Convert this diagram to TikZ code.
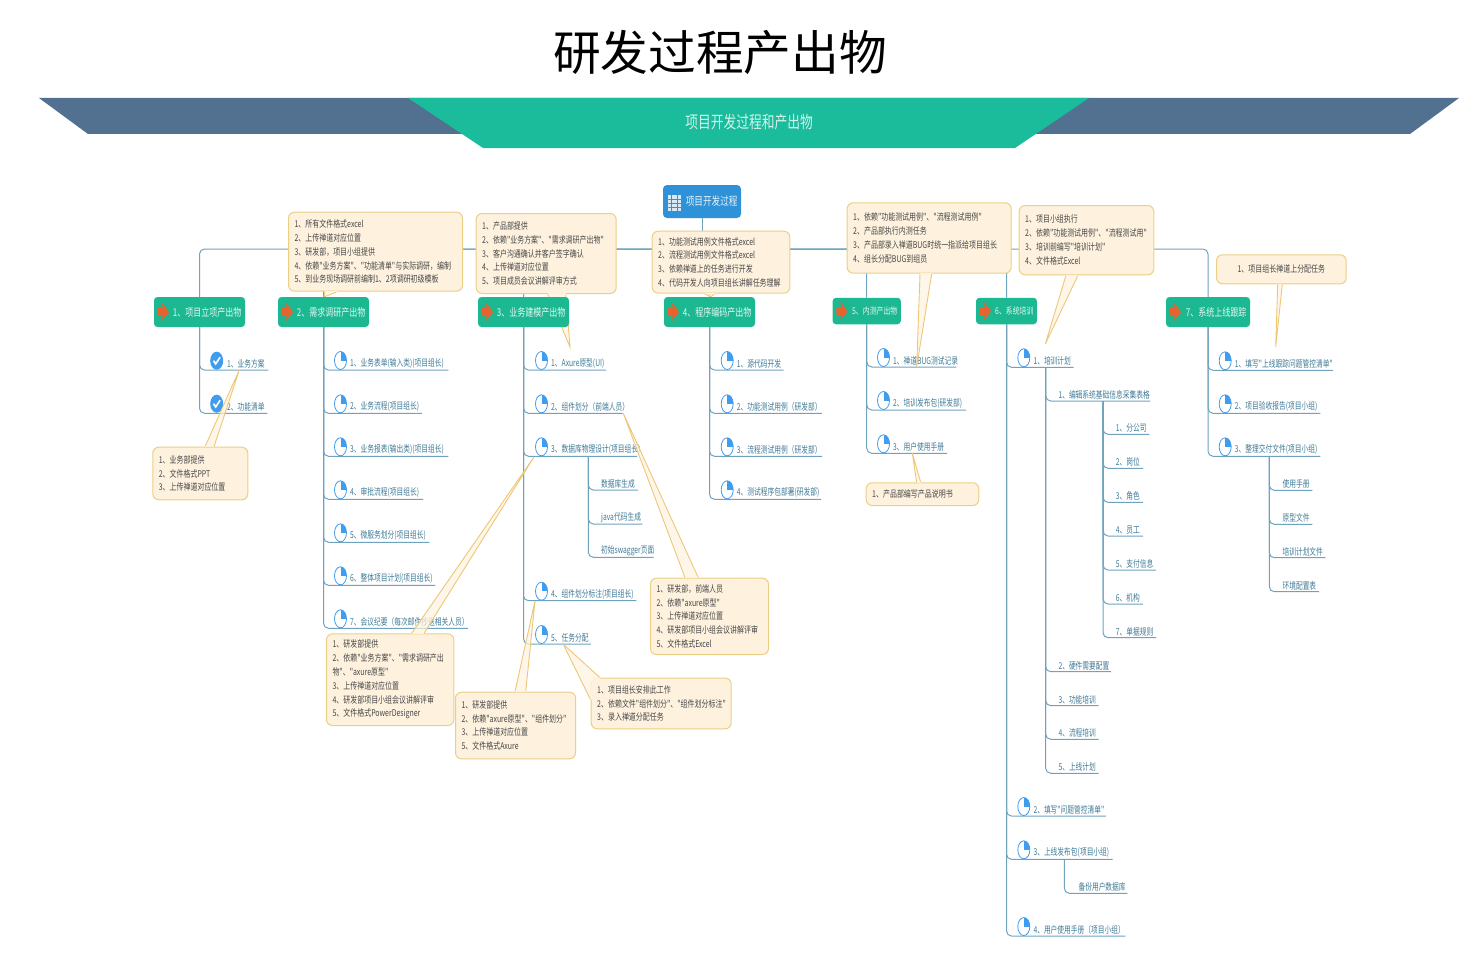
\documentclass[tikz,border=0pt]{standalone}
\usepackage{fontspec}
\newfontfamily\bodyfont[FakeStretch=0.75]{Noto Sans CJK SC}
\newfontfamily\leaffont[FakeStretch=0.71]{Noto Sans CJK SC}
\newfontfamily\titlefont{Noto Sans CJK SC}
\usetikzlibrary{shapes.geometric,backgrounds}

\definecolor{teal}{HTML}{1ABC9C}
\definecolor{headgreen}{HTML}{1BB891}
\definecolor{slate}{HTML}{52708F}
\definecolor{rootblue}{HTML}{2F92D8}
\definecolor{wirecol}{HTML}{6FA3BD}
\definecolor{leafcol}{HTML}{3F7A96}
\definecolor{iconblue}{HTML}{3F9CEE}
\definecolor{arrowcol}{HTML}{E8622F}
\definecolor{callbg}{HTML}{FEF2DF}
\definecolor{callline}{HTML}{EBCF85}

\tikzset{
  wire/.style={draw=wirecol, line width=1pt, rounded corners=5pt},
  leaf/.style={anchor=south west, text width=#1pt, inner xsep=0pt, inner ysep=1.5pt, text=leafcol,
    font=\leaffont\fontsize{9.5}{11}\selectfont},
  pieicon/.style={ellipse, draw=iconblue, line width=.8pt, fill=white, minimum width=12pt, minimum height=18pt, inner sep=0pt,
    path picture={\fill[iconblue] (path picture bounding box.center) rectangle (path picture bounding box.north east);}},
  checkicon/.style={ellipse, fill=iconblue, minimum width=13pt, minimum height=18pt, inner sep=0pt,
    path picture={\draw[white, line width=1.7pt]
      ([shift={(-3.2,0)}]path picture bounding box.center) -- ([shift={(-1,3.2)}]path picture bounding box.center)
      -- ([shift={(3.4,-3.4)}]path picture bounding box.center);}},
  head/.style={rectangle, rounded corners=3.5pt, fill=headgreen, text=white!88!teal, anchor=center, align=right,
    text width=#1pt, inner xsep=3.5pt, inner ysep=0pt, minimum height=30pt, font=\bodyfont\fontsize{10.7}{13}\selectfont},
  headsmall/.style={head=#1, minimum height=26.5pt, font=\bodyfont\fontsize{9.2}{11}\selectfont},
  callbox/.style={rectangle, anchor=north west, rounded corners=6pt, draw=callline, line width=1pt, fill=callbg, text=black!72,
    align=left, text width=#1pt, inner xsep=6pt, inner ysep=0pt, font=\bodyfont\fontsize{9.3}{13.8}\selectfont},
  tailfill/.style={fill=callbg, fill opacity=.7},
  tailline/.style={draw=callline!90!orange, line width=.9pt},
  tailcap/.style={draw=callbg, line width=1.3pt},
}

\newcommand{\pieleaf}[5]{
  \node[leaf=#4] (#1) at (#2,#3) {#5};
  \node[pieicon] (i#1) at ([xshift=-9.5pt,yshift=9.5pt]#1.south west) {};
}
\newcommand{\calltail}[3]{
  \fill[tailfill] (#1) -- (#2) -- (#3) -- cycle;
  \draw[tailline] (#1) -- (#2) -- (#3);
  \draw[tailcap] (#1) -- (#3);
}
\newcommand{\headarrow}[1]{
  \fill[arrowcol] ([xshift=4pt,yshift=4pt]#1.west) -- ([xshift=9pt,yshift=4pt]#1.west) -- ([xshift=8pt,yshift=9.3pt]#1.west)
    -- ([xshift=15.3pt]#1.west) -- ([xshift=8pt,yshift=-9.3pt]#1.west) -- ([xshift=9pt,yshift=-4pt]#1.west) -- ([xshift=4pt,yshift=-4pt]#1.west) -- cycle;
}

\begin{document}
\begin{tikzpicture}[x=1pt,y=-1pt]
  \useasboundingbox (0,0) rectangle (1469,971);

  % banner
  \node[font=\titlefont\fontsize{47.7}{50}\selectfont, text=black] (title) at (720,52) {研发过程产出物};
  \fill[slate] (39,98) -- (1459,98) -- (1410,134) -- (88,134) -- cycle;
  \fill[teal] (408,98) -- (1089,98) -- (1015,148) -- (483,148) -- cycle;
  \node[font=\bodyfont\fontsize{17}{19}\selectfont, text=white!82!teal] (subtitle) at (749,122) {项目开发过程和产出物};

  % root
  \node[rectangle, rounded corners=4pt, fill=rootblue, text=white!88!rootblue, minimum height=33pt, text width=71pt, align=right,
    inner xsep=3.5pt, inner ysep=0pt, font=\bodyfont\fontsize{11.5}{13}\selectfont] (root) at (702,201.5) {项目开发过程};
  \node[rectangle, fill=white!80!rootblue, minimum width=12.5pt, minimum height=16pt, inner sep=0pt, 
    path picture={
      \draw[rootblue, line width=.8pt] ([yshift=4pt]path picture bounding box.west) -- ([yshift=4pt]path picture bounding box.east);
      \draw[rootblue, line width=.8pt] (path picture bounding box.west) -- (path picture bounding box.east);
      \draw[rootblue, line width=.8pt] ([yshift=-4pt]path picture bounding box.west) -- ([yshift=-4pt]path picture bounding box.east);
      \draw[rootblue, line width=.8pt] ([xshift=-3pt]path picture bounding box.north) -- ([xshift=-3pt]path picture bounding box.south);
      \draw[rootblue, line width=.8pt] ([xshift=3pt]path picture bounding box.north) -- ([xshift=3pt]path picture bounding box.south);
    }] (rooticon) at (674.5,203) {};

  % branch 1
  \node[leaf=41] (l11) at (227,370) {1、业务方案};
  \node[checkicon] (il11) at (216.7,360.7) {};
  \node[leaf=40] (l12) at (227,413.3) {2、功能清单};
  \node[checkicon] (il12) at (216.7,403.7) {};

  % branch 2
  \pieleaf{l21}{350}{370}{98}{1、业务表单(输入类)(项目组长)}
  \pieleaf{l22}{350}{413.3}{71.7}{2、业务流程(项目组长)}
  \pieleaf{l23}{350}{456.3}{98}{3、业务报表(输出类)(项目组长)}
  \pieleaf{l24}{350}{499.3}{72.7}{4、审批流程(项目组长)}
  \pieleaf{l25}{350}{542.3}{79}{5、微服务划分(项目组长)}
  \pieleaf{l26}{350}{585.3}{85}{6、整体项目计划(项目组长)}
  \pieleaf{l27}{350}{628.3}{117.7}{7、会议纪要（每次邮件抄送相关人员）}

  % branch 3
  \pieleaf{l31}{551}{370}{54.7}{1、Axure原型(UI)}
  \pieleaf{l32}{551}{413.3}{71.3}{2、组件划分（前端人员）}
  \pieleaf{l33}{551}{456.3}{85.7}{3、数据库物理设计(项目组长)}
  \pieleaf{l34}{551}{600.7}{85}{4、组件划分标注(项目组长)}
  \pieleaf{l35}{551}{644}{39.7}{5、任务分配}
  \node[leaf=36.7] (s1) at (601,490) {数据库生成};
  \node[leaf=41] (s2) at (601,524) {java代码生成};
  \node[leaf=52.3] (s3) at (601,557.3) {初始swagger页面};

  % branch 4
  \pieleaf{l41}{736.7}{370}{46.6}{1、源代码开发}
  \pieleaf{l42}{736.7}{413.3}{85}{2、功能测试用例（研发部）}
  \pieleaf{l43}{736.7}{456.3}{85}{3、流程测试用例（研发部）}
  \pieleaf{l44}{736.7}{499.3}{84}{4、测试程序包部署(研发部)}

  % branch 5
  \pieleaf{l51}{893}{367}{63}{1、禅道BUG测试记录}
  \pieleaf{l52}{893}{410}{72.7}{2、培训发布包(研发部)}
  \pieleaf{l53}{893}{453.3}{53.7}{3、用户使用手册}

  % branch 6
  \pieleaf{l61}{1033.3}{367.3}{40}{1、培训计划}
  \pieleaf{l62}{1033.3}{816}{72.4}{2、填写"问题管控清单"}
  \pieleaf{l63}{1033.3}{859.3}{79}{3、上线发布包(项目小组)}
  \pieleaf{l64}{1033.3}{936}{91.7}{4、用户使用手册（项目小组）}
  \node[leaf=91.7] (m1) at (1058.3,401) {1、编辑系统基础信息采集表格};
  \node[leaf=52.4] (m2) at (1058.3,671.7) {2、硬件需要配置};
  \node[leaf=40] (m3) at (1058.3,705.7) {3、功能培训};
  \node[leaf=40] (m4) at (1058.3,739.3) {4、流程培训};
  \node[leaf=40] (m5) at (1058.3,773.3) {5、上线计划};
  \node[leaf=33.3] (n1) at (1115.7,434.3) {1、分公司};
  \node[leaf=27] (n2) at (1115.7,468.3) {2、岗位};
  \node[leaf=27] (n3) at (1115.7,502.3) {3、角色};
  \node[leaf=27] (n4) at (1115.7,536) {4、员工};
  \node[leaf=40] (n5) at (1115.7,570) {5、支付信息};
  \node[leaf=27] (n6) at (1115.7,604) {6、机构};
  \node[leaf=40] (n7) at (1115.7,637.7) {7、单据规则};
  \node[leaf=48.7] (p1) at (1078.3,893.3) {备份用户数据库};

  % branch 7
  \pieleaf{l71}{1234.7}{370.3}{98}{1、填写"上线跟踪问题管控清单"}
  \pieleaf{l72}{1234.7}{413.3}{85.3}{2、项目验收报告(项目小组)}
  \pieleaf{l73}{1234.7}{456.3}{85.3}{3、整理交付文件(项目小组)}
  \node[leaf=29.7] (q1) at (1282.3,490.3) {使用手册};
  \node[leaf=29.7] (q2) at (1282.3,524.3) {原型文件};
  \node[leaf=42.7] (q3) at (1282.3,557.7) {培训计划文件};
  \node[leaf=36.4] (q4) at (1282.3,591.7) {环境配置表};

  % callouts
  \node[callbox=162, minimum height=79pt] (c1) at (288,211.7) {1、所有文件格式excel\\2、上传禅道对应位置\\3、研发部，项目小组提供\\4、依赖"业务方案"、"功能清单"与实际调研，编制\\5、到业务现场调研前编制1、2项调研初级模板};
  \node[callbox=128, minimum height=80pt] (c2) at (475.7,213) {1、产品部提供\\2、依赖"业务方案"、"需求调研产出物"\\3、客户沟通确认并客户签字确认\\4、上传禅道对应位置\\5、项目成员会议讲解评审方式};
  \node[callbox=125.6, minimum height=62pt] (c3) at (651.7,230.7) {1、功能测试用例文件格式excel\\2、流程测试用例文件格式excel\\3、依赖禅道上的任务进行开发\\4、代码开发人向项目组长讲解任务理解};
  \node[callbox=152, minimum height=70.4pt] (c4) at (846.7,202.3) {1、依赖"功能测试用例"、"流程测试用例"\\2、产品部执行内测任务\\3、产品部录入禅道BUG时统一指派给项目组长\\4、组长分配BUG到组员\\[2pt]};
  \node[callbox=122.6, minimum height=69.3pt] (c5) at (1018.7,205) {1、项目小组执行\\2、依赖"功能测试用例"、"流程测试用"\\3、培训前编写"培训计划"\\4、文件格式Excel\\[2pt]};
  \node[callbox=117.7, minimum height=29pt, align=center] (c6) at (1216,254.3) {1、项目组长禅道上分配任务};
  \node[callbox=83, minimum height=52.6pt] (c7) at (152.3,446.7) {1、业务部提供\\2、文件格式PPT\\3、上传禅道对应位置};
  \node[callbox=115.3, minimum height=91.7pt] (c8) at (326,633.3) {1、研发部提供\\2、依赖"业务方案"、"需求调研产出\\物"、"axure原型"\\3、上传禅道对应位置\\4、研发部项目小组会议讲解评审\\5、文件格式PowerDesigner};
  \node[callbox=108, minimum height=66.6pt] (c9) at (455,691.7) {1、研发部提供\\2、依赖"axure原型"、"组件划分"\\3、上传禅道对应位置\\5、文件格式Axure};
  \node[callbox=128, minimum height=50.6pt] (c10) at (590.7,677.7) {1、项目组长安排此工作\\2、依赖文件"组件划分"、"组件划分标注"\\3、录入禅道分配任务};
  \node[callbox=106, minimum height=76.3pt] (c11) at (650,577.7) {1、研发部，前端人员\\2、依赖"axure原型"\\3、上传禅道对应位置\\4、研发部项目小组会议讲解评审\\5、文件格式Excel};
  \node[callbox=100.6, minimum height=22.7pt] (c12) at (865.7,482.3) {1、产品部编写产品说明书};

  % callout tails
  \coordinate (t1) at (324,297);
  \coordinate (t2) at (570,347);
  \coordinate (t3) at (710.7,297);
  \coordinate (t4) at (916.7,366.7);
  \coordinate (t5) at (1045.3,344);
  \coordinate (t6) at (1275.7,347);
  \coordinate (t7) at (239.3,370);
  \coordinate (t8) at (534,457);
  \coordinate (t9) at (535,601);
  \coordinate (t10) at (563.3,644.3);
  \coordinate (t11) at (623.3,413.3);
  \coordinate (t12) at (912.3,453.3);
  \calltail{[xshift=37pt]c1.south west}{t1}{[xshift=49pt]c1.south west}
  \calltail{[xshift=72pt]c2.south west}{t2}{[xshift=90pt]c2.south west}
  \calltail{[xshift=53pt]c3.south west}{t3}{[xshift=63pt]c3.south west}
  \calltail{[xshift=73.3pt]c4.south west}{t4}{[xshift=85pt]c4.south west}
  \calltail{[xshift=47.3pt]c5.south west}{t5}{[xshift=59.3pt]c5.south west}
  \calltail{[xshift=61.7pt]c6.south west}{t6}{[xshift=66.3pt]c6.south west}
  \calltail{[xshift=52.7pt]c7.north west}{t7}{[xshift=61.7pt]c7.north west}
  \calltail{[xshift=85.7pt]c8.north west}{t8}{[xshift=98pt]c8.north west}
  \calltail{[xshift=60pt]c9.north west}{t9}{[xshift=70.7pt]c9.north west}
  \fill[callbg] ([yshift=-22pt]c10.north west) -- ([xshift=1pt,yshift=-1pt]c10.north west) -- ([xshift=9pt]c10.north west) -- cycle;
  \calltail{[yshift=-22.3pt]c10.north west}{t10}{[xshift=9.3pt]c10.north west}
  \calltail{[xshift=35pt]c11.north west}{t11}{[xshift=48.3pt]c11.north west}
  \calltail{[xshift=51pt]c12.north west}{t12}{[xshift=55pt]c12.north west}

  % headers
  \node[head=84] (h1) at (199.5,312) {1、项目立项产出物};
  \node[head=84] (h2) at (323.5,312) {2、需求调研产出物};
  \node[head=84] (h3) at (523.5,312) {3、业务建模产出物};
  \node[head=84] (h4) at (709.5,312) {4、程序编码产出物};
  \node[headsmall=61.3] (h5) at (866.7,311) {5、内测产出物};
  \node[headsmall=54] (h6) at (1006.5,311) {6、系统培训};
  \node[head=77] (h7) at (1208,312) {7、系统上线跟踪};
  \headarrow{h1}
  \headarrow{h2}
  \headarrow{h3}
  \headarrow{h4}
  \headarrow{h5}
  \headarrow{h6}
  \headarrow{h7}

  % connectors
  \begin{pgfonlayer}{background}
    \coordinate (bus) at (702,249);
    \draw[wire] (root.south) -- (bus);
    \draw[wire] (bus) -| (h1.north);
    \draw[wire] (bus) -| (h2.north);
    \draw[wire] (bus) -| (h3.north);
    \draw[wire] (bus) -| (h4.north);
    \draw[wire] (bus) -| (h5.north);
    \draw[wire] (bus) -| (h6.north);
    \draw[wire] (bus) -| (h7.north);

    \draw[wire] (h1.south) |- (l11.south east);
    \draw[wire] (h1.south) |- (l12.south east);

    \draw[wire] (h2.south) |- (l21.south east);
    \draw[wire] (h2.south) |- (l22.south east);
    \draw[wire] (h2.south) |- (l23.south east);
    \draw[wire] (h2.south) |- (l24.south east);
    \draw[wire] (h2.south) |- (l25.south east);
    \draw[wire] (h2.south) |- (l26.south east);
    \draw[wire] (h2.south) |- (l27.south east);

    \draw[wire] (h3.south) |- (l31.south east);
    \draw[wire] (h3.south) |- (l32.south east);
    \draw[wire] (h3.south) |- (l33.south east);
    \draw[wire] (h3.south) |- (l34.south east);
    \draw[wire] (h3.south) |- (l35.south east);
    \coordinate (b33) at ([xshift=37.3pt]l33.south west);
    \draw[wire] (b33) |- (s1.south east);
    \draw[wire] (b33) |- (s2.south east);
    \draw[wire] (b33) |- (s3.south east);

    \draw[wire] (h4.south) |- (l41.south east);
    \draw[wire] (h4.south) |- (l42.south east);
    \draw[wire] (h4.south) |- (l43.south east);
    \draw[wire] (h4.south) |- (l44.south east);

    \draw[wire] (h5.south) |- (l51.south east);
    \draw[wire] (h5.south) |- (l52.south east);
    \draw[wire] (h5.south) |- (l53.south east);

    \draw[wire] (h6.south) |- (l61.south east);
    \draw[wire] (h6.south) |- (l62.south east);
    \draw[wire] (h6.south) |- (l63.south east);
    \draw[wire] (h6.south) |- (l64.south east);
    \coordinate (b61) at ([xshift=12.4pt]l61.south west);
    \draw[wire] (b61) |- (m1.south east);
    \draw[wire] (b61) |- (m2.south east);
    \draw[wire] (b61) |- (m3.south east);
    \draw[wire] (b61) |- (m4.south east);
    \draw[wire] (b61) |- (m5.south east);
    \coordinate (bm1) at ([xshift=44.7pt]m1.south west);
    \draw[wire] (bm1) |- (n1.south east);
    \draw[wire] (bm1) |- (n2.south east);
    \draw[wire] (bm1) |- (n3.south east);
    \draw[wire] (bm1) |- (n4.south east);
    \draw[wire] (bm1) |- (n5.south east);
    \draw[wire] (bm1) |- (n6.south east);
    \draw[wire] (bm1) |- (n7.south east);
    \coordinate (b63) at ([xshift=31pt]l63.south west);
    \draw[wire] (b63) |- (p1.south east);

    \draw[wire] (h7.south) |- (l71.south east);
    \draw[wire] (h7.south) |- (l72.south east);
    \draw[wire] (h7.south) |- (l73.south east);
    \coordinate (b73) at ([xshift=34.6pt]l73.south west);
    \draw[wire] (b73) |- (q1.south east);
    \draw[wire] (b73) |- (q2.south east);
    \draw[wire] (b73) |- (q3.south east);
    \draw[wire] (b73) |- (q4.south east);
  \end{pgfonlayer}
\end{tikzpicture}
\end{document}
